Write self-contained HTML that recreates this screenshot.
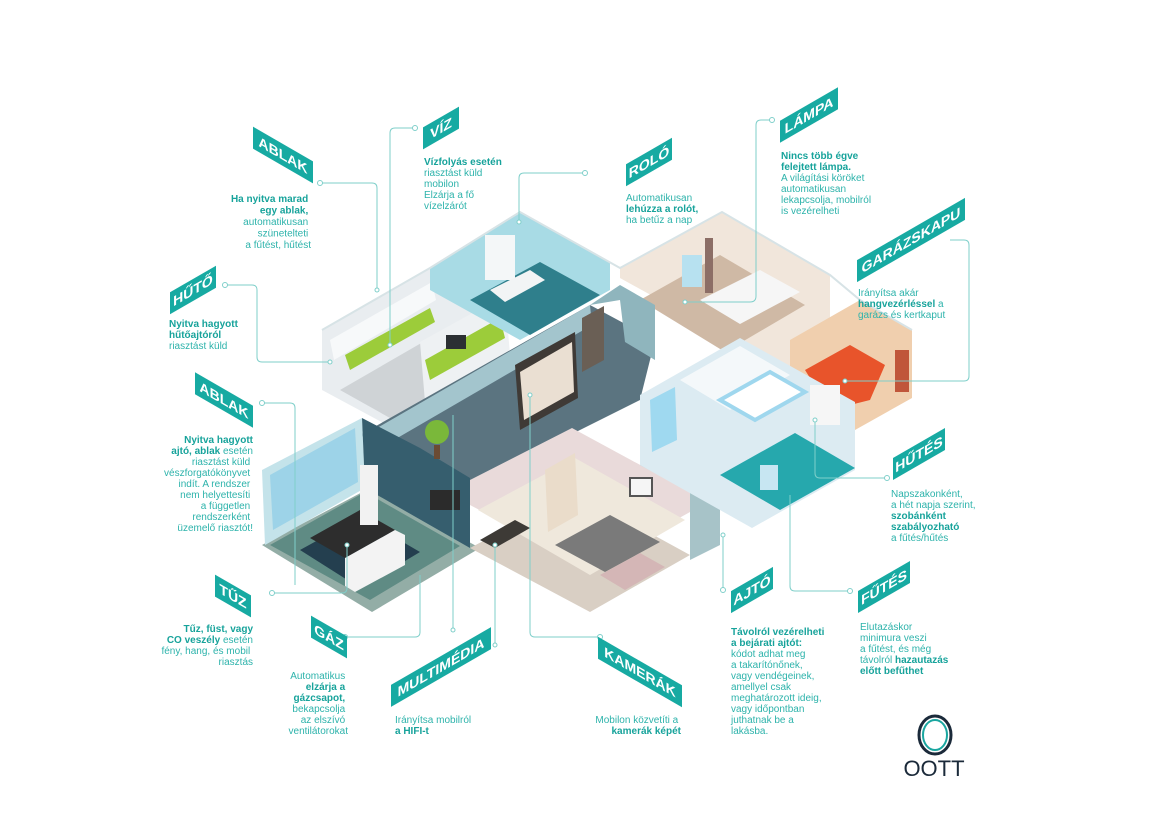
<!DOCTYPE html>
<html><head><meta charset="utf-8"><style>
html,body{margin:0;padding:0;background:#fff;}
svg{display:block;font-family:"Liberation Sans",sans-serif;}
.t{font-size:10px;fill:#2db3ab;}
.b{font-weight:bold;fill:#17a39b;}
.tag text{font-size:14px;font-weight:bold;fill:#fff;}
.ln{fill:none;stroke:#7fcfca;stroke-width:1;}
.d{fill:#fff;stroke:#7fcfca;stroke-width:1;}
</style></head><body>
<svg width="1170" height="827" viewBox="0 0 1170 827" xmlns="http://www.w3.org/2000/svg">
<rect width="1170" height="827" fill="#fff"/>

<!-- HOUSE -->
<polygon points="262,545 370,488 480,548 372,612" fill="#93ada6"/>
<polygon points="470,548 575,492 690,555 590,612" fill="#d9cfc4"/>
<!-- kitchen -->
<polygon points="322,330 430,268 520,318 415,380 415,440 322,390" fill="#e9edf0"/>
<polygon points="340,390 430,338 505,380 415,432" fill="#cfd3d6"/>
<polygon points="330,340 432,282 436,300 334,360" fill="#f7f9fa"/>
<polygon points="345,355 430,308 435,322 350,370" fill="#9ccc3a"/>
<polygon points="420,342 505,295 510,355 425,402" fill="#eef1f3"/>
<polygon points="425,360 500,318 505,338 430,380" fill="#9ccc3a"/>
<rect x="446" y="335" width="20" height="14" fill="#2b2f33"/>
<!-- bathroom -->
<polygon points="430,268 520,212 610,262 610,290 520,340 430,290" fill="#a8dbe5"/>
<polygon points="470,300 540,262 600,295 530,335" fill="#2f7f8c"/>
<rect x="485" y="235" width="30" height="45" fill="#f4f7f8"/>
<polygon points="490,290 530,270 545,280 505,302" fill="#f2f4f5"/>
<!-- living room -->
<polygon points="620,268 722,212 830,275 830,350 790,372 620,278" fill="#f1e6db"/>
<polygon points="640,300 720,255 805,305 725,352" fill="#cfb9a5"/>
<polygon points="700,300 760,270 800,292 740,324" fill="#f6f6f6"/>
<rect x="705" y="238" width="8" height="55" fill="#8c6e66"/>
<rect x="682" y="255" width="20" height="32" fill="#b7e1f0"/>
<!-- garage -->
<polygon points="790,340 860,300 912,330 912,398 855,430 790,392" fill="#f0cfae"/>
<polygon points="805,370 850,345 885,365 870,400 830,410" fill="#e8542b"/>
<rect x="895" y="350" width="14" height="42" fill="#c0563a"/>
<!-- central dark hall -->
<polygon points="360,435 590,305 655,340 640,400 560,440 470,492" fill="#5b7480"/>
<polygon points="365,435 590,305 592,325 368,455" fill="#a3c5cd"/>
<polygon points="590,305 620,285 655,305 655,360 625,342 620,300" fill="#8fb5bd"/>
<polygon points="515,365 575,332 578,398 520,430" fill="#3f3a36"/>
<polygon points="520,372 572,342 574,392 524,420" fill="#eadfd2"/>
<polygon points="582,318 604,306 604,360 582,372" fill="#6a5f55"/>
<!-- office -->
<polygon points="262,470 362,418 365,488 265,545" fill="#c4e3ea"/>
<polygon points="270,475 355,428 358,482 273,530" fill="#9dd3e8"/>
<polygon points="362,418 420,448 470,478 470,548 365,488" fill="#365e6e"/>
<polygon points="270,545 365,492 460,546 370,600" fill="#5f8b84"/>
<polygon points="300,550 360,517 420,552 360,588" fill="#243f4f"/>
<polygon points="310,538 360,510 395,530 345,558" fill="#2d2d2d"/>
<polygon points="345,558 395,530 405,535 405,565 355,592 345,586" fill="#f3f3f3"/>
<rect x="360" y="465" width="18" height="60" fill="#f2f2f2"/>
<rect x="430" y="490" width="30" height="20" fill="#2b2b2b"/>
<circle cx="437" cy="432" r="12" fill="#7ab83a"/>
<rect x="434" y="445" width="6" height="14" fill="#6b4b34"/>
<!-- bedroom -->
<polygon points="470,480 572,428 690,492 690,512 590,568 470,505" fill="#e9dada"/>
<polygon points="478,510 575,458 685,520 590,575" fill="#efe8dc"/>
<polygon points="545,470 575,453 578,515 548,532" fill="#eadcca"/>
<polygon points="555,545 610,515 660,542 605,572" fill="#7a7a7a"/>
<polygon points="600,575 640,553 665,567 625,590" fill="#d4b6b6"/>
<polygon points="480,540 515,520 530,528 495,548" fill="#3d3a36"/>
<rect x="630" y="478" width="22" height="18" fill="#f5f5f5" stroke="#555" stroke-width="2"/>
<!-- entry -->
<polygon points="640,395 690,370 690,492 640,465" fill="#8db4bb"/>
<polygon points="690,492 720,475 720,545 690,560" fill="#a7c3c8"/>
<polygon points="680,440 700,430 702,475 682,485" fill="#6b5d50"/>
<!-- kids room -->
<polygon points="640,395 740,338 855,402 855,470 752,528 640,465" fill="#dcebf2"/>
<polygon points="680,380 740,346 790,375 730,410" fill="#f4f8fa"/>
<polygon points="720,400 770,372 805,392 755,420" fill="#ffffff" stroke="#9fd7ee" stroke-width="4"/>
<polygon points="720,475 795,433 855,468 780,510" fill="#26a8ad"/>
<polygon points="650,400 675,387 677,440 652,452" fill="#9fd9f0"/>
<rect x="810" y="385" width="30" height="40" fill="#f6f6f6"/>
<rect x="760" y="465" width="18" height="25" fill="#c7e6f2"/>
<polyline points="322,330 430,268 520,212 620,268 722,212 830,275 860,300 912,330" fill="none" stroke="#d7e3e6" stroke-width="2"/>

<!-- CONNECTORS -->
<path class="ln" d="M320,183 H372 Q377,183 377,188 V290"/>
<circle class="d" cx="320" cy="183" r="2.5"/><circle class="d" cx="377" cy="290" r="2"/>
<path class="ln" d="M415,128 H395 Q390,128 390,133 V345"/>
<circle class="d" cx="415" cy="128" r="2.5"/><circle class="d" cx="390" cy="345" r="2"/>
<path class="ln" d="M585,173 H524 Q519,173 519,178 V222"/>
<circle class="d" cx="585" cy="173" r="2.5"/><circle class="d" cx="519" cy="222" r="2"/>
<path class="ln" d="M772,120 H761 Q756,120 756,125 V296 Q756,302 750,302 H685"/>
<circle class="d" cx="772" cy="120" r="2.5"/><circle class="d" cx="685" cy="302" r="2"/>
<path class="ln" d="M845,381 H964 Q969,381 969,376 V245 Q969,240 964,240 H950"/>
<circle class="d" cx="845" cy="381" r="2"/>
<path class="ln" d="M225,285 H252 Q257,285 257,290 V357 Q257,362 262,362 H330"/>
<circle class="d" cx="225" cy="285" r="2.5"/><circle class="d" cx="330" cy="362" r="2"/>
<path class="ln" d="M262,403 H290 Q295,403 295,408 V585"/>
<circle class="d" cx="262" cy="403" r="2.5"/>
<path class="ln" d="M887,478 H820 Q815,478 815,473 V420"/>
<circle class="d" cx="887" cy="478" r="2.5"/><circle class="d" cx="815" cy="420" r="2"/>
<path class="ln" d="M850,591 H795 Q790,591 790,586 V495"/>
<circle class="d" cx="850" cy="591" r="2.5"/>
<path class="ln" d="M723,590 V535"/>
<circle class="d" cx="723" cy="590" r="2.5"/><circle class="d" cx="723" cy="535" r="2"/>
<path class="ln" d="M600,637 H535 Q530,637 530,632 V395"/>
<circle class="d" cx="600" cy="637" r="2.5"/><circle class="d" cx="530" cy="395" r="2"/>
<path class="ln" d="M495,645 V545"/><circle class="d" cx="495" cy="545" r="2"/><circle class="d" cx="495" cy="645" r="2"/>
<path class="ln" d="M453,630 V415"/><circle class="d" cx="453" cy="630" r="2"/>
<path class="ln" d="M345,637 H415 Q420,637 420,632 V575"/><circle class="d" cx="345" cy="637" r="2.5"/>
<path class="ln" d="M272,593 H342 Q347,593 347,588 V545"/><circle class="d" cx="272" cy="593" r="2.5"/><circle class="d" cx="347" cy="545" r="2"/>

<!-- TAGS -->
<g class="tag">
<g transform="translate(283,155) skewY(30)"><rect x="-30" y="-11" width="60" height="22" fill="#17aaa2"/><text x="0" y="5" text-anchor="middle">ABLAK</text></g>
<g transform="translate(441,128) skewY(-30)"><rect x="-18" y="-11" width="36" height="22" fill="#17aaa2"/><text x="0" y="5" text-anchor="middle">VÍZ</text></g>
<g transform="translate(649,162) skewY(-30)"><rect x="-23" y="-11" width="46" height="22" fill="#17aaa2"/><text x="0" y="5" text-anchor="middle">ROLÓ</text></g>
<g transform="translate(809,115) skewY(-30)"><rect x="-29" y="-11" width="58" height="22" fill="#17aaa2"/><text x="0" y="5" text-anchor="middle">LÁMPA</text></g>
<g transform="translate(911,240) skewY(-30)"><rect x="-54" y="-11" width="108" height="22" fill="#17aaa2"/><text x="0" y="5" text-anchor="middle">GARÁZSKAPU</text></g>
<g transform="translate(193,290) skewY(-30)"><rect x="-23" y="-11" width="46" height="22" fill="#17aaa2"/><text x="0" y="5" text-anchor="middle">HŰTŐ</text></g>
<g transform="translate(224,400) skewY(30)"><rect x="-29" y="-11" width="58" height="22" fill="#17aaa2"/><text x="0" y="5" text-anchor="middle">ABLAK</text></g>
<g transform="translate(919,454) skewY(-30)"><rect x="-26" y="-11" width="52" height="22" fill="#17aaa2"/><text x="0" y="5" text-anchor="middle">HŰTÉS</text></g>
<g transform="translate(233,596) skewY(30)"><rect x="-18" y="-11" width="36" height="22" fill="#17aaa2"/><text x="0" y="5" text-anchor="middle">TŰZ</text></g>
<g transform="translate(329,637) skewY(30)"><rect x="-18" y="-11" width="36" height="22" fill="#17aaa2"/><text x="0" y="5" text-anchor="middle">GÁZ</text></g>
<g transform="translate(441,667) skewY(-30)"><rect x="-50" y="-11" width="100" height="22" fill="#17aaa2"/><text x="0" y="5" text-anchor="middle">MULTIMÉDIA</text></g>
<g transform="translate(640,672) skewY(30)"><rect x="-42" y="-11" width="84" height="22" fill="#17aaa2"/><text x="0" y="5" text-anchor="middle">KAMERÁK</text></g>
<g transform="translate(752,590) skewY(-30)"><rect x="-21" y="-11" width="42" height="22" fill="#17aaa2"/><text x="0" y="5" text-anchor="middle">AJTÓ</text></g>
<g transform="translate(884,587) skewY(-30)"><rect x="-26" y="-11" width="52" height="22" fill="#17aaa2"/><text x="0" y="5" text-anchor="middle">FŰTÉS</text></g>
</g>

<!-- TEXT BLOCKS -->
<text class="t" text-anchor="end">
<tspan class="b" x="311" y="202">Ha nyitva marad</tspan>
<tspan class="b" x="311" y="213.5">egy ablak,</tspan>
<tspan x="311" y="225">automatikusan</tspan>
<tspan x="311" y="236.5">szünetelteti</tspan>
<tspan x="311" y="248">a fűtést, hűtést</tspan>
</text>
<text class="t">
<tspan class="b" x="424" y="165">Vízfolyás esetén</tspan>
<tspan x="424" y="176">riasztást küld</tspan>
<tspan x="424" y="187">mobilon</tspan>
<tspan x="424" y="198">Elzárja a fő</tspan>
<tspan x="424" y="209">vízelzárót</tspan>
</text>
<text class="t">
<tspan x="626" y="201">Automatikusan</tspan>
<tspan class="b" x="626" y="212">lehúzza a rolót,</tspan>
<tspan x="626" y="223">ha betűz a nap</tspan>
</text>
<text class="t">
<tspan class="b" x="781" y="159">Nincs több égve</tspan>
<tspan class="b" x="781" y="170">felejtett lámpa.</tspan>
<tspan x="781" y="181">A világítási köröket</tspan>
<tspan x="781" y="192">automatikusan</tspan>
<tspan x="781" y="203">lekapcsolja, mobilról</tspan>
<tspan x="781" y="214">is vezérelheti</tspan>
</text>
<text class="t" x="858" y="296">Irányítsa akár</text>
<text class="t" x="858" y="307"><tspan class="b">hangvezérléssel</tspan> a</text>
<text class="t" x="858" y="318">garázs és kertkaput</text>
<text class="t">
<tspan class="b" x="169" y="327">Nyitva hagyott</tspan>
<tspan class="b" x="169" y="338">hűtőajtóról</tspan>
<tspan x="169" y="349">riasztást küld</tspan>
</text>
<text class="t" text-anchor="end">
<tspan class="b" x="253" y="443">Nyitva hagyott</tspan>
</text>
<text class="t" text-anchor="end" x="253" y="454"><tspan class="b">ajtó, ablak</tspan> esetén</text>
<text class="t" text-anchor="end">
<tspan x="253" y="465">riasztást küld</tspan>
<tspan x="253" y="476">vészforgatókönyvet</tspan>
<tspan x="253" y="487">indít. A rendszer</tspan>
<tspan x="253" y="498">nem helyettesíti</tspan>
<tspan x="253" y="509">a független</tspan>
<tspan x="253" y="520">rendszerként</tspan>
<tspan x="253" y="531">üzemelő riasztót!</tspan>
</text>
<text class="t">
<tspan x="891" y="497">Napszakonként,</tspan>
<tspan x="891" y="508">a hét napja szerint,</tspan>
<tspan class="b" x="891" y="519">szobánként</tspan>
<tspan class="b" x="891" y="530">szabályozható</tspan>
<tspan x="891" y="541">a fűtés/hűtés</tspan>
</text>
<text class="t" text-anchor="end"><tspan class="b" x="253" y="632">Tűz, füst, vagy</tspan></text>
<text class="t" text-anchor="end" x="253" y="643"><tspan class="b">CO veszély</tspan> esetén</text>
<text class="t" text-anchor="end">
<tspan x="253" y="654">fény, hang, és mobil</tspan>
<tspan x="253" y="665">riasztás</tspan>
</text>
<text class="t" text-anchor="end">
<tspan x="348" y="679">Automatikus</tspan>
<tspan class="b" x="348" y="690">elzárja a</tspan>
<tspan class="b" x="348" y="701">gázcsapot,</tspan>
<tspan x="348" y="712">bekapcsolja</tspan>
<tspan x="348" y="723">az elszívó</tspan>
<tspan x="348" y="734">ventilátorokat</tspan>
</text>
<text class="t">
<tspan x="395" y="723">Irányítsa mobilról</tspan>
<tspan class="b" x="395" y="734">a HIFI-t</tspan>
</text>
<text class="t" text-anchor="end">
<tspan x="681" y="723">Mobilon közvetíti a</tspan>
<tspan class="b" x="681" y="734">kamerák képét</tspan>
</text>
<text class="t">
<tspan class="b" x="731" y="635">Távolról vezérelheti</tspan>
<tspan class="b" x="731" y="646">a bejárati ajtót:</tspan>
<tspan x="731" y="657">kódot adhat meg</tspan>
<tspan x="731" y="668">a takarítónőnek,</tspan>
<tspan x="731" y="679">vagy vendégeinek,</tspan>
<tspan x="731" y="690">amellyel csak</tspan>
<tspan x="731" y="701">meghatározott ideig,</tspan>
<tspan x="731" y="712">vagy időpontban</tspan>
<tspan x="731" y="723">juthatnak be a</tspan>
<tspan x="731" y="734">lakásba.</tspan>
</text>
<text class="t">
<tspan x="860" y="630">Elutazáskor</tspan>
<tspan x="860" y="641">minimura veszi</tspan>
<tspan x="860" y="652">a fűtést, és még</tspan>
</text>
<text class="t" x="860" y="663">távolról <tspan class="b">hazautazás</tspan></text>
<text class="t"><tspan class="b" x="860" y="674">előtt befűthet</tspan></text>

<!-- LOGO -->
<ellipse cx="935" cy="735" rx="16" ry="19" fill="none" stroke="#1b2a3a" stroke-width="3"/>
<ellipse cx="935" cy="735" rx="12" ry="15" fill="none" stroke="#1aa6a0" stroke-width="2"/>
<text x="934" y="776" text-anchor="middle" font-size="22" fill="#1b2a3a">OOTT</text>
</svg>
</body></html>
